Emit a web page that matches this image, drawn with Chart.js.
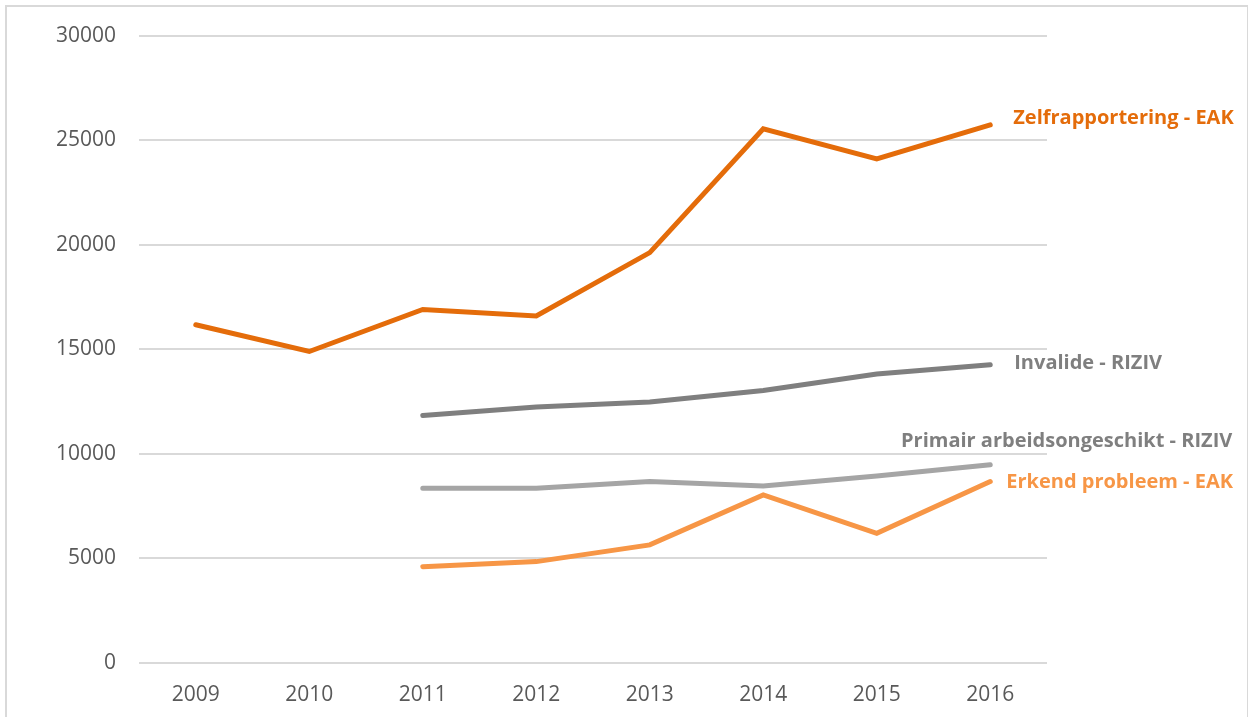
<!DOCTYPE html>
<html>
<head>
<meta charset="utf-8">
<script src="https://cdn.jsdelivr.net/npm/chart.js@4/dist/chart.umd.min.js"></script>
<style>
  html, body { margin: 0; padding: 0; background: #fff; }
  #wrap { position: relative; width: 1248px; height: 717px; }
  #frame {
    position: absolute; left: 5px; top: 5px; width: 1240px; height: 730px;
    border: 2px solid #d9d9d9; pointer-events: none;
  }
</style>
</head>
<body>
<div id="wrap">
  <canvas id="chart" width="1248" height="717"></canvas>
  <div id="frame"></div>
</div>
<script>
(function () {
  "use strict";

  // ---- data ----
  const years = ["2009", "2010", "2011", "2012", "2013", "2014", "2015", "2016"];
  const zelfrapportering = [16170, 14890, 16900, 16590, 19620, 25540, 24100, 25730];
  const invalide = [null, null, 11830, 12230, 12470, 13020, 13810, 14260];
  const primair = [null, null, 8350, 8350, 8670, 8460, 8940, 9470];
  const erkend = [null, null, 4600, 4840, 5640, 8030, 6190, 8670];
  const yTicks = [0, 5000, 10000, 15000, 20000, 25000, 30000];

  const FONT = "'Open Sans', 'Noto Sans', sans-serif";

  function series(label, data, color, lbl) {
    return {
      label: label,
      data: data,
      borderColor: color,
      backgroundColor: color,
      borderWidth: 5,
      borderCapStyle: "round",
      borderJoinStyle: "miter",
      pointRadius: 0,
      tension: 0,
      spanGaps: false,
      endLabel: lbl,
    };
  }

  // draws the series name next to its last point
  const endLabels = {
    id: "endLabels",
    afterDatasetsDraw(chart) {
      const ctx = chart.ctx;
      chart.data.datasets.forEach((ds, i) => {
        const meta = chart.getDatasetMeta(i);
        const pt = meta.data[meta.data.length - 1];
        const o = ds.endLabel;
        ctx.save();
        ctx.font = "bold " + o.size + "px " + FONT;
        ctx.fillStyle = o.color;
        ctx.textBaseline = "middle";
        ctx.textAlign = o.align || "left";
        ctx.fillText(ds.label, pt.x + o.dx, pt.y + o.dy);
        ctx.restore();
      });
    },
  };

  new Chart(document.getElementById("chart"), {
    type: "line",
    data: {
      labels: years,
      datasets: [
        series("Zelfrapportering - EAK", zelfrapportering, "#e46c0a",
          { dx: 23, dy: -7, size: 20, color: "#e46c0a" }),
        series("Invalide - RIZIV", invalide, "#7f7f7f",
          { dx: 24, dy: -1, size: 20, color: "#7f7f7f" }),
        series("Primair arbeidsongeschikt - RIZIV", primair, "#a5a5a5",
          { dx: 242, dy: -24, size: 20, color: "#7f7f7f", align: "right" }),
        series("Erkend probleem - EAK", erkend, "#f79646",
          { dx: 16, dy: 1, size: 20, color: "#f79646" }),
      ],
    },
    options: {
      responsive: false,
      animation: false,
      events: [],
      layout: { padding: { left: 33, right: 201, top: 22, bottom: -11 } },
      plugins: {
        legend: { display: false },
        tooltip: { enabled: false },
      },
      scales: {
        x: {
          offset: true,
          grid: { display: false, drawTicks: false },
          border: { display: false },
          ticks: { color: "#595959", font: { family: FONT, size: 21 }, padding: 20 },
        },
        y: {
          min: 0,
          max: 30000,
          afterBuildTicks: (axis) => { axis.ticks = yTicks.map((v) => ({ value: v })); },
          grid: { color: "#d9d9d9", lineWidth: 2, drawTicks: false },
          border: { display: false },
          ticks: {
            color: "#595959",
            font: { family: FONT, size: 21 },
            padding: 23,
            callback: (v) => String(v),
          },
        },
      },
    },
    plugins: [endLabels],
  });
})();
</script>
</body>
</html>
